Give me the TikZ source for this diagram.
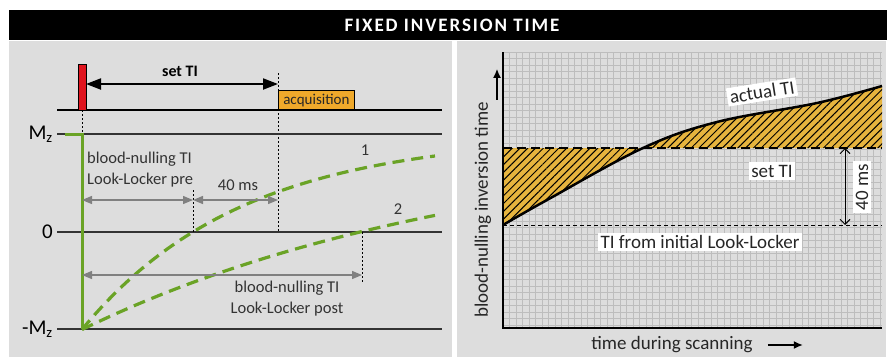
\documentclass[tikz,border=0pt]{standalone}
\usepackage{fontspec}
\setmainfont{Carlito}
\newfontfamily\titlefont[LetterSpace=10]{Carlito}
\usetikzlibrary{arrows.meta, positioning, patterns.meta}

\definecolor{panelgray}{HTML}{DDDDDD}
\definecolor{gridgray}{HTML}{BDBDBD}
\definecolor{mzgreen}{RGB}{106,163,38}
\definecolor{pulsered}{RGB}{224,20,30}
\definecolor{acqorange}{RGB}{239,169,43}
\definecolor{hatchorange}{RGB}{230,180,62}
\definecolor{dimgray}{RGB}{128,128,128}

\tikzset{
  txt/.style={font=\fontsize{16.5}{21}\selectfont, text=black!80, inner sep=1pt},
  bigtxt/.style={font=\fontsize{19}{22}\selectfont, text=black!85, inner sep=2pt},
  whitebox/.style={bigtxt, fill=white, inner sep=2.5pt},
  levelline/.style={line width=1.2pt, black!80},
  mzcurve/.style={mzgreen, line width=3.2pt, dash pattern=on 12pt off 7pt},
  dimarrow/.style={dimgray, line width=1.3pt, {Triangle[length=10pt,width=8pt]}-{Triangle[length=10pt,width=8pt]}},
  marker/.style={black, line width=0.8pt, dash pattern=on 2pt off 2pt},
}

\begin{document}
\begin{tikzpicture}[x=1pt, y=-1pt]
\useasboundingbox (0,0) rectangle (887,357);
\fill[white] (0,0) rectangle (887,357);

% title and panels
\fill[black] (9,10) rectangle (887,40);
\fill[panelgray] (9,41) rectangle (452,357);
\fill[panelgray] (457,41) rectangle (886,357);
\node[text=white, font=\titlefont\fontsize{19}{21}\selectfont\bfseries] (title) at (452,25) {FIXED INVERSION TIME};

% left panel: sequence
\draw[line width=2pt] (57,110) -- (442,110);
\draw[marker] (82,110) -- (82,134);
\draw[marker] (278,73) -- (278,232);
\draw[fill=pulsered, line width=0.8pt] (78,64) rectangle (86,110);
\node[draw, line width=0.8pt, fill=acqorange, minimum width=76pt, minimum height=19pt, inner sep=0pt,
      anchor=south west, font=\fontsize{15}{17}\selectfont, text=black!85] (acq) at (278,110) {acquisition};
\coordinate (pulse) at (86,84);
\coordinate (tiend) at (278,84);
\draw[line width=2pt, {Triangle[length=15pt,width=11pt]}-{Triangle[length=15pt,width=11pt]}] (pulse) -- (tiend);
\node[font=\fontsize{16}{18}\selectfont\bfseries] (setti) at (180,71) {set TI};

% left panel: magnetisation levels
\foreach \lev/\lab/\y in {mzp/{M\textsubscript{z}}/134, zero/0/232, mzm/{-M\textsubscript{z}}/329} {
  \draw[levelline] (57,\y) -- (442,\y);
  \node[anchor=east, font=\fontsize{21}{23}\selectfont, inner sep=1pt] (\lev) at (54,\y) {\lab};
}
\draw[mzgreen, line width=3pt] (65,134) -- (82,134) -- (82,329);
\draw[mzcurve] plot[domain=0:353, samples=80] ({82+\x},{232-97.5*(1-2*exp(-\x/160))});
\draw[mzcurve] plot[domain=0:353, samples=80] ({82+\x},{232-97.5*(1-2*exp(-\x/401))});
\node[txt] (c1) at (365,150) {1};
\node[txt] (c2) at (398,209) {2};

% left panel: nulling times
\coordinate (pre0) at (82,200);
\coordinate (pre1) at (193,200);
\coordinate (post0) at (82,275);
\coordinate (post1) at (362,275);
\draw[marker] (193,190) -- (193,232);
\draw[marker] (362,232) -- (362,283);
\draw[dimarrow] (pre0) -- (pre1);
\draw[dimarrow] (pre1) -- (tiend |- pre1);
\draw[dimarrow] (post0) -- (post1);
\node[txt, align=left, anchor=north west] (pretxt) at (86,151) {blood-nulling TI\\Look-Locker pre};
\node[txt] (fortyL) at (238,185) {40 ms};
\node[txt, align=center, anchor=north] (posttxt) at (287,280) {blood-nulling TI\\Look-Locker post};

% right panel: chart
\foreach \i in {0,...,58} \draw[gridgray, line width=0.9pt] (503+6.5*\i,52) -- ++(0,276);
\foreach \j in {0,...,42} \draw[gridgray, line width=0.9pt] (503,52+6.5*\j) -- ++(379,0);
\fill[hatchorange] plot[smooth, tension=0.6] coordinates {(503,225) (547,200) (643,148) (717,122) (817,103) (882,86)}
   -- (882,148) -- (503,148) -- cycle;
\fill[pattern={Lines[angle=45, distance=5.5pt, line width=1pt]}, pattern color=black]
   plot[smooth, tension=0.6] coordinates {(503,225) (547,200) (643,148) (717,122) (817,103) (882,86)}
   -- (882,148) -- (503,148) -- cycle;
\draw[line width=2.5pt] plot[smooth, tension=0.6] coordinates {(503,225) (547,200) (643,148) (717,122) (817,103) (882,86)};
\draw[line width=2.5pt, dash pattern=on 9pt off 5pt] (503,148) -- (882,148);
\draw[line width=1pt, dash pattern=on 4pt off 3pt] (503,225) -- (882,225);
\draw[line width=2pt] (503,52) -- (503,328) -- (882,328);

\coordinate (settop) at (845,148);
\coordinate (initbot) at (845,225);
\draw[line width=1pt, {Straight Barb[length=5pt,width=10pt]}-{Straight Barb[length=5pt,width=10pt]}] (settop) -- (initbot);
\node[whitebox, rotate=90] (fortyR) at (862,187) {40 ms};
\node[whitebox, rotate=9] (actual) at (762,92) {actual TI};
\node[whitebox] (setlab) at (772,171) {set TI};
\node[whitebox] (initlab) at (700,242) {TI from initial Look-Locker};

\node[bigtxt, rotate=90] (ylab) at (483,210) {blood-nulling inversion time};
\draw[line width=1.5pt, -{Latex[length=9pt,width=8pt]}] ([xshift=14pt]ylab.east) -- ++(0,-31);
\node[bigtxt] (xlab) at (672,345) {time during scanning};
\draw[line width=1.5pt, -{Latex[length=9pt,width=8pt]}] ([xshift=13pt]xlab.east) -- ++(35,0);
\end{tikzpicture}
\end{document}
